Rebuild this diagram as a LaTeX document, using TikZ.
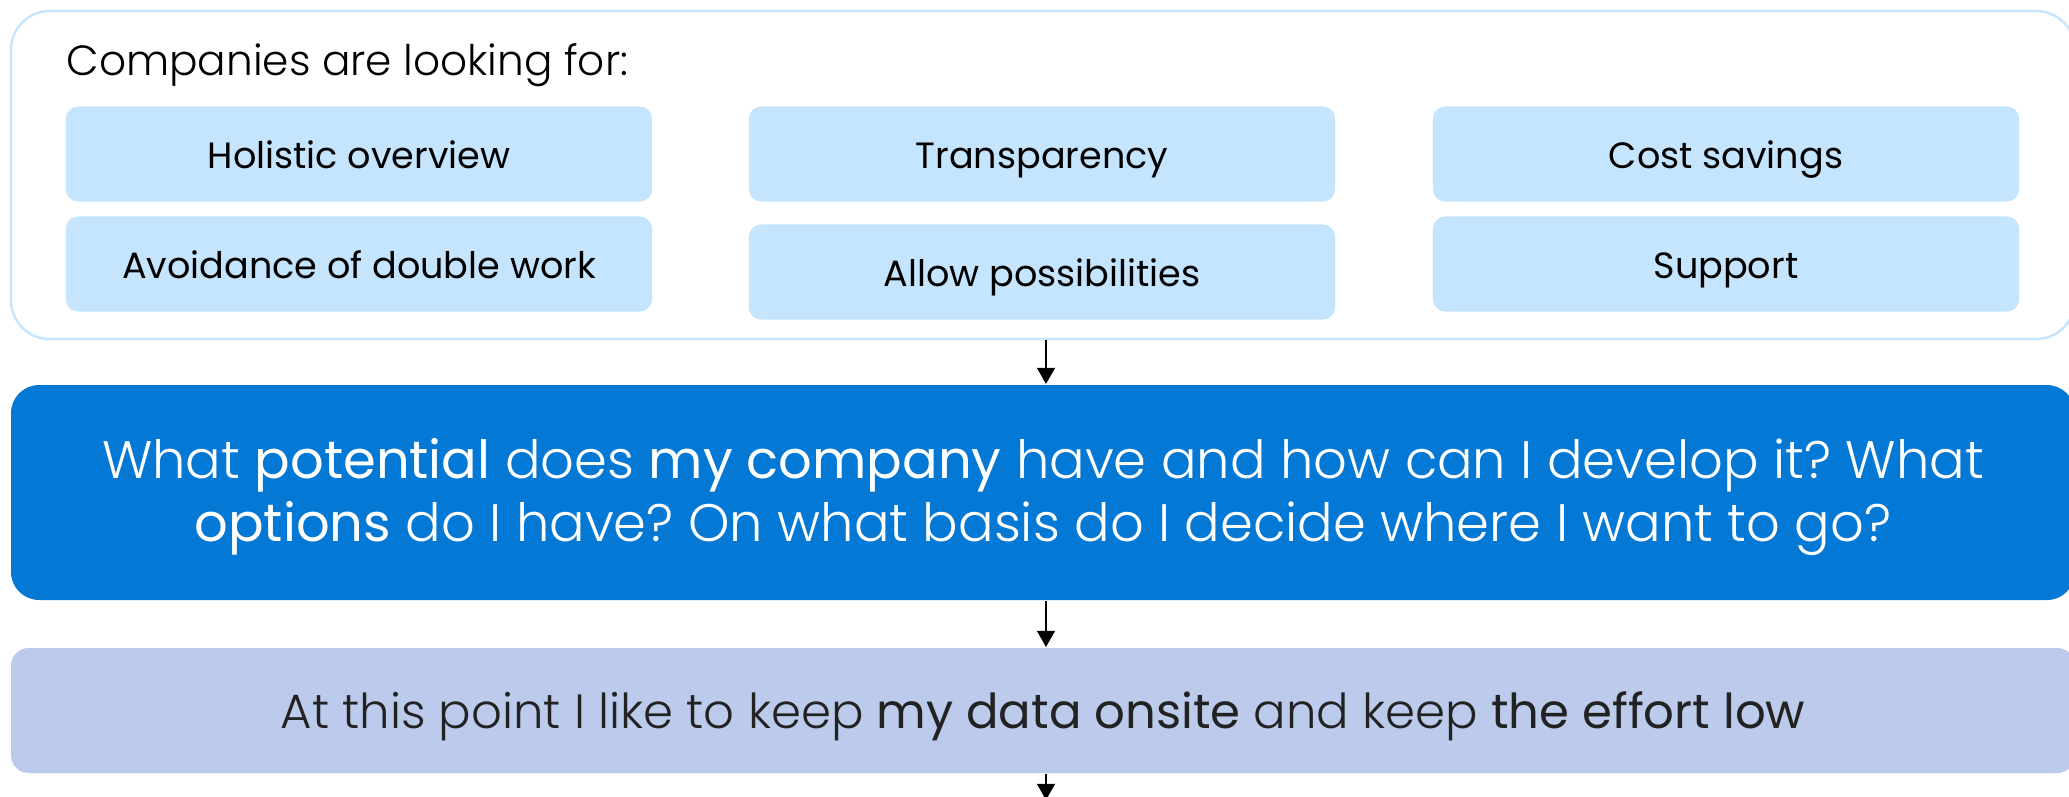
\documentclass[tikz,border=0pt]{standalone}
\usepackage{fontspec}
\setmainfont{Poppins}
\newfontfamily\lightfont{Poppins Light}
\newfontfamily\regfont{Poppins}
\usetikzlibrary{arrows.meta}
\frenchspacing

\definecolor{itemblue}{HTML}{C5E4FD}
\definecolor{mainblue}{HTML}{0378D5}
\definecolor{lowblue}{HTML}{BCCBEB}
\definecolor{darktext}{HTML}{222222}

\newcommand{\keyw}[1]{{\regfont #1}}

\tikzset{
  item/.style={fill=itemblue, rounded corners=3.5pt, minimum width=5.86cm,
    minimum height=0.95cm, inner sep=0pt, text height=8pt, text depth=0pt,
    font=\regfont\fontsize{10.4}{12}\selectfont},
  flow/.style={-{Triangle[width=5pt,length=4.6pt]}, line width=0.75pt},
}

\begin{document}
\begin{tikzpicture}[x=0.01cm, y=-0.01cm]

\useasboundingbox (0,0) rectangle (2069,796);
\clip (0,0) rectangle (2069,796);

% outer panel
\draw[itemblue, line width=0.7pt, rounded corners=11pt] (11,11) rectangle (2075,339);
\node[anchor=base west, inner sep=0pt, font=\lightfont\fontsize{12}{14}\selectfont] (title) at (66,75) {Companies are looking for:};

\node[item] (holistic) at (359,154) {Holistic overview};
\node[item] (transp)   at (1042,154) {Transparency};
\node[item] (cost)     at (1726,154) {Cost savings};
\node[item] (avoid)    at (359,264) {Avoidance of double work};
\node[item] (allow)    at (1042,272) {Allow possibilities};
\node[item] (support)  at (1726,264) {Support};

% main question
\fill[mainblue, rounded corners=8pt] (11,385) rectangle (2075,600);
\node[text=white, align=center, font=\lightfont\fontsize{15}{18}\selectfont] (question) at (1043,497)
  {What \keyw{potential} does \keyw{my company} have and how can I develop it? What\\
   \keyw{options} do I have? On what basis do I decide where I want to go?};

% constraint
\fill[lowblue, rounded corners=5pt] (11,648) rectangle (2075,773);
\node[text=darktext, font=\lightfont\fontsize{13.7}{16}\selectfont] (onsite) at (1043,716)
  {At this point I like to keep \keyw{my data onsite} and keep \keyw{the effort low}};

\coordinate (panelbot) at (1046,340);
\coordinate (qtop) at (1046,384);
\coordinate (qbot) at (1046,601);
\coordinate (otop) at (1046,647);
\coordinate (obot) at (1046,774);
\coordinate (next) at (1046,800);

\draw[flow] (panelbot) -- (qtop);
\draw[flow] (qbot) -- (otop);
\draw[flow] (obot) -- (next);

\end{tikzpicture}
\end{document}
